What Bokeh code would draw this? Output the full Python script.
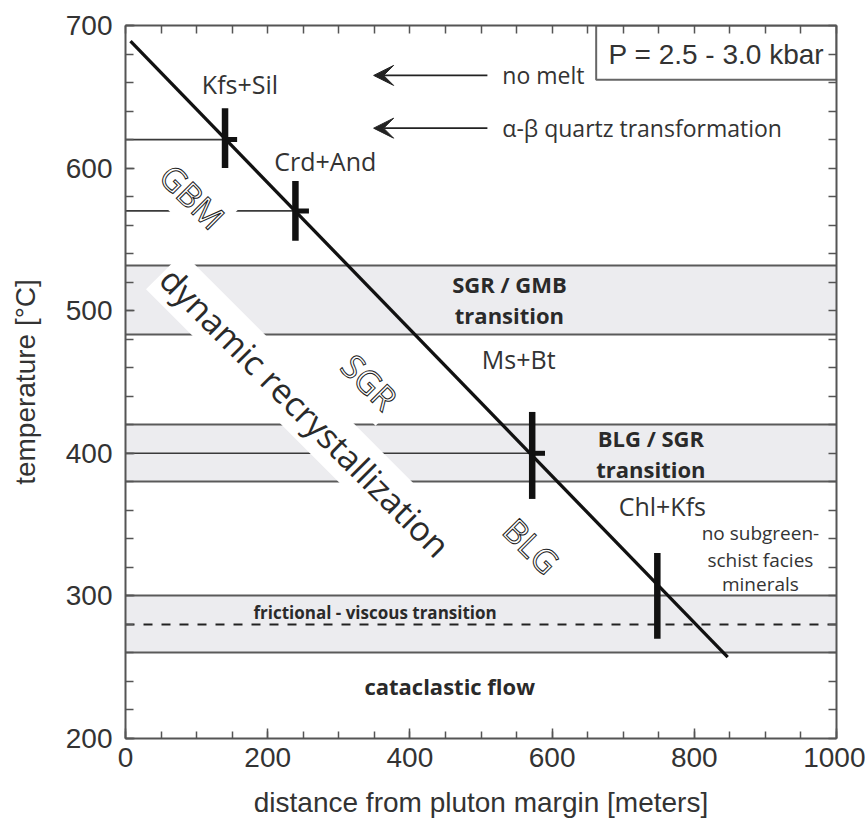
import math
from bokeh.plotting import figure
from bokeh.models import LinearAxis, FixedTicker, Range1d, Arrow, VeeHead
from bokeh.core.properties import value
from bokeh.embed import file_html
from bokeh.resources import INLINE

# ---------------- data ----------------
# geothermal profile (distance in m, temperature in degC)
profile_dist = [7, 847]
profile_temp = [689, 257]

# isograd crossings on the profile (vertical bars)
iso_dist = [140, 239, 572, 748]
iso_low = [600, 549, 368, 270]
iso_high = [642, 591, 429, 330]

# horizontal reference lines from the margin to the isograds
ref_temp = [620, 570, 400]
ref_end = [140, 239, 572]
stub_start = [140, 239, 572]
stub_end = [157, 258, 590]

# shaded transition bands
band_low = [483, 380, 260]
band_high = [532, 420, 300]
fv_temp = [280]

# mineral assemblage labels
mineral_text = ["Kfs+Sil", "Crd+And", "Ms+Bt", "Chl+Kfs"]
mineral_x = [161, 281, 553, 755]
mineral_y = [659, 605, 466, 363]

# bold transition labels
bold_text = ["SGR / GMB", "transition", "BLG / SGR", "transition",
             "frictional - viscous transition", "cataclastic flow"]
bold_x = [540, 540, 739, 739, 351, 456]
bold_y = [519, 497, 411, 389, 288.5, 237]
bold_size = ["22px", "22px", "22px", "22px", "17px", "22px"]

# small note
note_text = ["no subgreen-", "schist facies", "minerals"]
note_x = [893, 893, 893]
note_y = [344, 325.5, 308]

# recrystallization regime labels (outlined)
regime_text = ["GBM", "SGR", "BLG"]
regime_x = [94, 343, 571]
regime_y = [580, 450, 335]

dyn_text = ["dynamic recrystallization"]
dyn_x = [253]
dyn_y = [429]

# arrows
arrow_text = ["no melt", "\u03b1-\u03b2 quartz transformation"]
arrow_temp = [665, 628]
arrow_from = [509, 509]
arrow_to = [349, 349]
arrow_text_x = [530, 530]

# pressure box
p_text = ["P = 2.5 - 3.0 kbar"]
p_box = dict(left=662, right=1000, bottom=662, top=700)
p_text_x = [831]
p_text_y = [680]

x_major = [0, 200, 400, 600, 800, 1000]
x_minor = list(range(0, 1001, 50))
y_major = [200, 300, 400, 500, 600, 700]
y_minor = list(range(200, 701, 20))

# ---------------- figure ----------------
AX = "#555555"
TXT = "#333333"
FONT_AX = "Liberation Sans"
FONT_IN = "Open Sans"

p = figure(width=865, height=830, output_backend="svg", toolbar_location=None,
           x_range=Range1d(0, 1000), y_range=Range1d(200, 700),
           x_axis_type=None, y_axis_type=None,
           min_border_left=125, min_border_right=29, min_border_top=25,
           min_border_bottom=92)
p.outline_line_color = None
p.xgrid.visible = False
p.ygrid.visible = False
p.background_fill_color = "white"
p.border_fill_color = "white"


def style_axis(ax, tick_in, minor_in, labels=True):
    ax.axis_line_color = AX
    ax.axis_line_width = 2
    ax.major_tick_line_color = AX
    ax.minor_tick_line_color = AX
    ax.major_tick_line_width = 1.5
    ax.minor_tick_line_width = 1.5
    ax.major_tick_in = tick_in
    ax.major_tick_out = 0
    ax.minor_tick_in = minor_in
    ax.minor_tick_out = 0
    if labels:
        ax.major_label_text_font = FONT_AX
        ax.major_label_text_font_size = "28px"
        ax.major_label_text_color = TXT
        ax.axis_label_text_font = FONT_AX
        ax.axis_label_text_font_size = "28px"
        ax.axis_label_text_font_style = "normal"
        ax.axis_label_text_color = TXT


xb = LinearAxis(ticker=FixedTicker(ticks=x_major, minor_ticks=x_minor),
                axis_label="distance from pluton margin [meters]")
style_axis(xb, 10, 7)
xb.major_label_standoff = 9
xb.axis_label_standoff = 17
p.add_layout(xb, "below")

xt = LinearAxis(ticker=FixedTicker(ticks=[], minor_ticks=x_minor))
style_axis(xt, 8, 8, labels=False)
p.add_layout(xt, "above")

yl = LinearAxis(ticker=FixedTicker(ticks=y_major, minor_ticks=y_minor),
                axis_label="temperature [\u00b0C]")
style_axis(yl, 9, 8)
yl.major_label_standoff = 13
yl.axis_label_standoff = 22
p.add_layout(yl, "left")

yr = LinearAxis(ticker=FixedTicker(ticks=[], minor_ticks=y_minor))
style_axis(yr, 8, 8, labels=False)
p.add_layout(yr, "right")

# bands
p.quad(left=0, right=1000, bottom=band_low, top=band_high,
       fill_color="#ececef", line_color=None)
p.hspan(y=band_low + band_high, line_color="#5a5a5a", line_width=1.8)
p.hspan(y=fv_temp, line_color="#222222", line_width=2, line_dash="9 9")

# reference lines
p.segment(x0=[0] * len(ref_temp), y0=ref_temp, x1=ref_end, y1=ref_temp,
          line_color="#3a3a3a", line_width=1.6)

# labels inside plot
p.text(x=mineral_x, y=mineral_y, text=mineral_text, text_font=value(FONT_IN),
       text_font_size="25px", text_color=TXT, text_align="center",
       text_baseline="middle")
p.text(x=bold_x, y=bold_y, text=bold_text, text_font=value(FONT_IN),
       text_font_size=bold_size, text_font_style="bold", text_color="#2a2a2a",
       text_align="center", text_baseline="middle")
p.text(x=note_x, y=note_y, text=note_text, text_font=value(FONT_IN),
       text_font_size="19px", text_color=TXT, text_align="center",
       text_baseline="middle")

ang = -math.pi / 4
p.text(x=dyn_x, y=dyn_y, text=dyn_text, angle=ang, text_font=value(FONT_IN),
       text_font_size="34px", text_color="#2a2a2a", text_align="center",
       text_baseline="middle", background_fill_color="white", padding=3)
p.text(x=regime_x, y=regime_y, text=regime_text, angle=ang,
       text_font=value(FONT_IN), text_font_size="33px", text_color="white",
       text_outline_color="#222222", text_align="center",
       text_baseline="middle", background_fill_color="white", padding=4)

# profile line and isograd marks
p.line(profile_dist, profile_temp, line_color="#111111", line_width=3.3)
p.segment(x0=iso_dist, y0=iso_low, x1=iso_dist, y1=iso_high,
          line_color="#111111", line_width=6.5)
p.segment(x0=stub_start, y0=ref_temp, x1=stub_end, y1=ref_temp,
          line_color="#111111", line_width=5)

# arrows
for t, x0, x1 in zip(arrow_temp, arrow_from, arrow_to):
    p.add_layout(Arrow(end=VeeHead(size=20, fill_color="#222222",
                                   line_color="#222222", line_width=1),
                       x_start=x0, y_start=t, x_end=x1, y_end=t,
                       line_color="#222222", line_width=1.6))
p.text(x=arrow_text_x, y=arrow_temp, text=arrow_text, text_font=value(FONT_IN),
       text_font_size="23px", text_color=TXT, text_align="left",
       text_baseline="middle")

# pressure box
p.quad(left=[p_box["left"]], right=[p_box["right"]], bottom=[p_box["bottom"]],
       top=[p_box["top"]], fill_color="white", line_color="#666666",
       line_width=2)
p.text(x=p_text_x, y=p_text_y, text=p_text, text_font=value(FONT_AX),
       text_font_size="28px", text_color=TXT, text_align="center",
       text_baseline="middle")

open("out.html", "w").write(file_html(p, INLINE))
